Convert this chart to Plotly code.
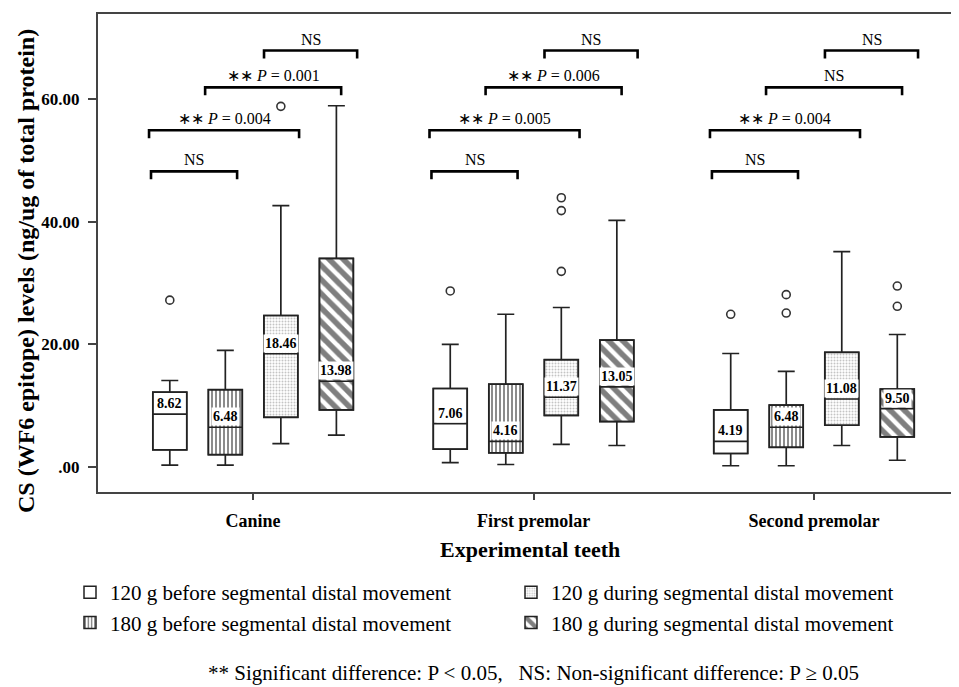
import plotly.graph_objects as go

# ---------------- data ----------------
teeth = ["Canine", "First premolar", "Second premolar"]
series_names = [
    "120 g before segmental distal movement",
    "180 g before segmental distal movement",
    "120 g during segmental distal movement",
    "180 g during segmental distal movement",
]
# per series: values for [Canine, First premolar, Second premolar]
lower_120_before = [0.3, 0.7, 0.2]
q1_120_before = [2.8, 2.9, 2.2]
med_120_before = [8.62, 7.06, 4.19]
q3_120_before = [12.2, 12.8, 9.3]
upper_120_before = [14.1, 20.0, 18.5]
out_120_before = [[27.2], [28.7], [24.9]]

lower_180_before = [0.3, 0.4, 0.2]
q1_180_before = [2.0, 2.3, 3.2]
med_180_before = [6.48, 4.16, 6.48]
q3_180_before = [12.6, 13.5, 10.1]
upper_180_before = [19.0, 24.9, 15.6]
out_180_before = [[], [], [25.1, 28.1]]

lower_120_during = [3.8, 3.7, 3.5]
q1_120_during = [8.1, 8.4, 6.8]
med_120_during = [18.46, 11.37, 11.08]
q3_120_during = [24.7, 17.5, 18.7]
upper_120_during = [42.6, 26.0, 35.1]
out_120_during = [[58.8], [31.9, 41.8, 43.9], []]

lower_180_during = [5.2, 3.5, 1.1]
q1_180_during = [9.3, 7.4, 4.9]
med_180_during = [13.98, 13.05, 9.50]
q3_180_during = [34.0, 20.7, 12.7]
upper_180_during = [58.9, 40.2, 21.6]
out_180_during = [[], [], [26.2, 29.5]]

# significance brackets per tooth: (label, level, left offset, right offset)
bracket_levels = [48.2, 54.9, 61.9, 67.9]
bracket_left = [-0.364, -0.371, -0.171, 0.039]
bracket_right = [-0.057, 0.164, 0.314, 0.371]
bracket_labels = [
    ["NS", "∗∗ <i>P</i> = 0.004", "∗∗ <i>P</i> = 0.001", "NS"],
    ["NS", "∗∗ <i>P</i> = 0.005", "∗∗ <i>P</i> = 0.006", "NS"],
    ["NS", "∗∗ <i>P</i> = 0.004", "NS", "NS"],
]

y_ticks = [0, 20, 40, 60]
y_tick_text = [".00", "20.00", "40.00", "60.00"]

# ---------------- styling ----------------
FONT = "Liberation Serif, Times New Roman, serif"
offsets = [-0.297, -0.099, 0.099, 0.297]
box_w = 0.121
patterns = [
    dict(shape="", fgcolor="black", bgcolor="white"),
    dict(shape="|", fgcolor="black", bgcolor="white", size=4, solidity=0.45),
    dict(shape=".", fgcolor="#8a8a8a", bgcolor="white", size=3, solidity=0.35),
    dict(shape="\\", fgcolor="black", bgcolor="white", size=10, solidity=0.55),
]
legend_rank = [1, 3, 2, 4]

stats = [
    (lower_120_before, q1_120_before, med_120_before, q3_120_before, upper_120_before, out_120_before),
    (lower_180_before, q1_180_before, med_180_before, q3_180_before, upper_180_before, out_180_before),
    (lower_120_during, q1_120_during, med_120_during, q3_120_during, upper_120_during, out_120_during),
    (lower_180_during, q1_180_during, med_180_during, q3_180_during, upper_180_during, out_180_during),
]

fig = go.Figure()
annotations = []

for s, (lo, q1, med, q3, up, outs) in enumerate(stats):
    xs = [g + offsets[s] for g in range(len(teeth))]
    # patterned box body (also provides the legend swatch)
    fig.add_trace(go.Bar(
        x=xs, y=[b - a for a, b in zip(q1, q3)], base=q1, width=box_w,
        name=series_names[s], legendrank=legend_rank[s],
        marker=dict(color="white", pattern=patterns[s],
                    line=dict(color="#222", width=1.5)),
        hoverinfo="skip",
    ))
    # box outline, whiskers, median
    fig.add_trace(go.Box(
        x=xs, q1=q1, median=med, q3=q3, lowerfence=lo, upperfence=up,
        width=box_w, whiskerwidth=0.5, fillcolor="rgba(0,0,0,0)",
        line=dict(color="#222", width=1.7), boxpoints=False,
        showlegend=False, hoverinfo="skip",
    ))
    # outliers
    ox, oy = [], []
    for g, vals in enumerate(outs):
        for v in vals:
            ox.append(xs[g]); oy.append(v)
    if ox:
        fig.add_trace(go.Scatter(
            x=ox, y=oy, mode="markers", showlegend=False, hoverinfo="skip",
            marker=dict(symbol="circle-open", size=8, color="#333",
                        line=dict(width=1.6, color="#333")),
        ))
    # median labels
    for g in range(len(teeth)):
        annotations.append(dict(
            x=xs[g], y=med[g], xref="x", yref="y", text=f"{med[g]:.2f}",
            showarrow=False, yanchor="bottom", xanchor="center",
            bgcolor="white", borderpad=1, yshift=1,
            font=dict(family=FONT, size=14, color="black", weight="bold"),
        ))

# brackets
drop = 1.3
bx, by = [], []
for g in range(len(teeth)):
    for k, lvl in enumerate(bracket_levels):
        x0 = g + bracket_left[k]
        x1 = g + bracket_right[k]
        bx += [x0, x0, x1, x1, None]
        by += [lvl - drop, lvl, lvl, lvl - drop, None]
        annotations.append(dict(
            x=(x0 + x1) / 2, y=lvl, xref="x", yref="y", text=bracket_labels[g][k],
            showarrow=False, yanchor="bottom", xanchor="center", yshift=1,
            font=dict(family=FONT, size=16, color="black"),
        ))
fig.add_trace(go.Scatter(x=bx, y=by, mode="lines", showlegend=False, hoverinfo="skip",
                         line=dict(color="black", width=2.6)))

# plot-area geometry (figure pixels; page adds an 8px body margin)
PL, PR, PT, PB = 90, 951, 6, 484
PW, PH = PR - PL, PB - PT


def px_x(x):
    return (x - 8 - PL) / PW


def px_y(y):
    return (PB - (y - 8)) / PH


annotations.append(dict(
    x=px_x(26), y=px_y(271), xref="paper", yref="paper", textangle=-90,
    text="CS (WF6 epitope) levels (ng/ug of total protein)", showarrow=False,
    xanchor="center", yanchor="middle",
    font=dict(family=FONT, size=24, color="black", weight="bold"),
))
annotations.append(dict(
    x=px_x(530), y=px_y(549), xref="paper", yref="paper", text="Experimental teeth",
    showarrow=False, xanchor="center", yanchor="middle",
    font=dict(family=FONT, size=22, color="black", weight="bold"),
))
annotations.append(dict(
    x=px_x(533.5), y=px_y(673), xref="paper", yref="paper",
    text="** Significant difference: P &lt; 0.05,   NS: Non-significant difference: P ≥ 0.05",
    showarrow=False, xanchor="center", yanchor="middle",
    font=dict(family=FONT, size=21, color="black"),
))

fig.update_layout(
    width=951, height=679, autosize=False,
    margin=dict(l=PL, r=951 - PR, t=PT, b=679 - PB),
    paper_bgcolor="white", plot_bgcolor="white",
    barmode="overlay", boxmode="overlay",
    annotations=annotations,
    showlegend=True,
    legend=dict(
        orientation="h", x=px_x(70), y=px_y(572), xanchor="left", yanchor="top",
        entrywidth=396, entrywidthmode="pixels", traceorder="normal",
        font=dict(family=FONT, size=21, color="black"),
        bgcolor="rgba(0,0,0,0)",
    ),
    xaxis=dict(
        range=[-0.553, 2.517], tickvals=list(range(len(teeth))), ticktext=teeth,
        showline=True, mirror=True, linecolor="#444", linewidth=2,
        ticks="outside", ticklen=6, tickwidth=1.5, tickcolor="#444",
        showgrid=False, zeroline=False, ticklabelstandoff=5,
        tickfont=dict(family=FONT, size=18, color="black", weight="bold"),
    ),
    yaxis=dict(
        range=[-4.08, 73.86], tickvals=y_ticks, ticktext=y_tick_text,
        showline=True, mirror=False, linecolor="#444", linewidth=2,
        ticks="outside", ticklen=8, tickwidth=1.5, tickcolor="#444",
        showgrid=False, zeroline=False, ticklabelstandoff=5,
        tickfont=dict(family=FONT, size=17, color="black", weight="bold"),
    ),
)

fig.write_html("out.html")
